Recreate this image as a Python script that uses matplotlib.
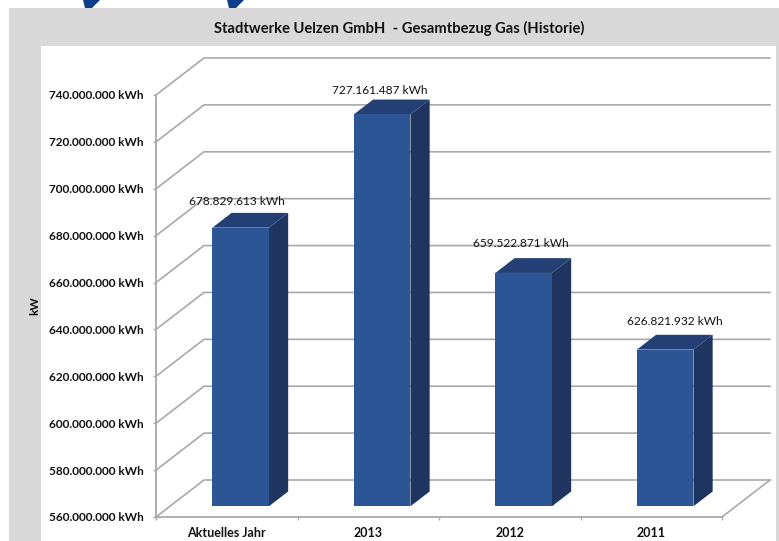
import numpy as np
import matplotlib
matplotlib.use("Agg")
import matplotlib.pyplot as plt
from matplotlib.patches import Polygon, Rectangle

title = "Stadtwerke Uelzen GmbH  - Gesamtbezug Gas (Historie)"
categories = ["Aktuelles Jahr", "2013", "2012", "2011"]
values = [678829613, 727161487, 659522871, 626821932]
value_labels = ["678.829.613 kWh", "727.161.487 kWh", "659.522.871 kWh", "626.821.932 kWh"]
y_ticks = [560e6, 580e6, 600e6, 620e6, 640e6, 660e6, 680e6, 700e6, 720e6, 740e6]
y_tick_labels = ["560.000.000 kWh", "580.000.000 kWh", "600.000.000 kWh", "620.000.000 kWh",
                 "640.000.000 kWh", "660.000.000 kWh", "680.000.000 kWh", "700.000.000 kWh",
                 "720.000.000 kWh", "740.000.000 kWh"]
# label offsets from bar top centre, in pixels
label_dx = [-4, -2, -3, 10]
label_dy = [26, 24, 29, 28]

W, H = 779, 541
plt.rcParams["font.family"] = ["Lato", "DejaVu Sans"]
GRID = "#a9a9a9"
FRONT, SIDE, TOP = "#2c5595", "#1f3560", "#233f74"

fig = plt.figure(figsize=(W / 100, H / 100), dpi=100)
fig.patches.append(Rectangle((9 / W, 0), 770 / W, 533 / H, transform=fig.transFigure, color="#d9d9d9", lw=0, zorder=-3))
fig.patches.append(Rectangle((41 / W, 0), 735 / W, 495 / H, transform=fig.transFigure, color="white", lw=0, zorder=-2))

# bits of the logo above the panel
for x0 in [83, 227]:
    pts = [(x0, H), (x0 + 17, H), (x0 + 9, H - 8), (x0 + 2, H - 8)]
    fig.patches.append(Polygon([(a / W, b / H) for a, b in pts], transform=fig.transFigure, color="#0b3d8c", lw=0, zorder=-2))

ax = fig.add_axes([156 / W, (H - 517) / H, 566 / W, 422 / H])
ax.patch.set_visible(False)
ax.set_xlim(0, 4)
ax.set_ylim(560e6, 740e6)

# depth of the 3d box, in data units
dx = 48 / 141.5
dy = 37 / 422 * 180e6
front_gap = 0.29
bar_depth = 0.40
bar_w = 0.40

for y in y_ticks:
    ax.plot([0, dx, 4 + dx], [y, y + dy, y + dy], color=GRID, lw=1.2, clip_on=False, zorder=1)
ax.plot([4, 4 + dx], [560e6, 560e6 + dy], color=GRID, lw=1.2, clip_on=False, zorder=1)

centers = np.arange(4) + 0.5 + front_gap * dx
base = 560e6 + front_gap * dy
heights = [v - 560e6 for v in values]
ax.bar(centers, heights, bar_w, bottom=base, color=FRONT, zorder=4, clip_on=False)

ddx = bar_depth * dx
ddy = bar_depth * dy
for c, h in zip(centers, heights):
    l, r = c - bar_w / 2, c + bar_w / 2
    t = base + h
    ax.add_patch(Polygon([(r, base), (r + ddx, base + ddy), (r + ddx, t + ddy), (r, t)],
                         color=SIDE, lw=0, zorder=3, clip_on=False))
    ax.add_patch(Polygon([(l, t), (r, t), (r + ddx, t + ddy), (l + ddx, t + ddy)],
                         color=TOP, lw=0, zorder=3, clip_on=False))

for c, h, s, ox, oy in zip(centers, heights, value_labels, label_dx, label_dy):
    ax.annotate(s, (c, base + h), xytext=(ox * 0.72, oy * 0.72), textcoords="offset points",
                ha="center", va="center", fontsize=8.6, color="#111111", zorder=5, annotation_clip=False)

ax.set_yticks(y_ticks)
ax.set_yticklabels(y_tick_labels, fontsize=8.5, fontweight="bold", color="#111111")
ax.set_xticks(range(5))
ax.set_xticklabels([])
ax.tick_params(axis="both", color=GRID, width=1, length=2.5, pad=6.5)
for i, c in enumerate(categories):
    ax.annotate(c, (i + 0.5, 560e6), xytext=(0, -11.5), textcoords="offset points", ha="center", va="center",
                fontsize=9, fontweight="bold", color="#111111", annotation_clip=False)

for side in ["top", "right"]:
    ax.spines[side].set_visible(False)
for side in ["left", "bottom"]:
    ax.spines[side].set_color(GRID)
    ax.spines[side].set_linewidth(1.3)

fig.text(399 / W, (H - 28) / H, title, ha="center", va="center", fontsize=10.6, fontweight="bold", color="#111111")
fig.text(35 / W, (H - 306) / H, "kW", rotation=90, ha="center", va="center", fontsize=8.5, fontweight="bold", color="#111111")

fig.savefig("out.png", dpi=100, facecolor="white")
